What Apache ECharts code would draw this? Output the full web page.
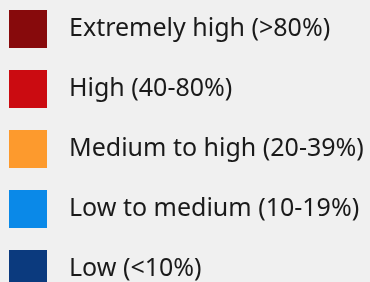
<!DOCTYPE html>
<html lang="en">
<head>
    <meta charset="UTF-8">
    <title>legend</title>
    <style>
        html, body { margin: 0; padding: 0; background: #f0f0f0; }
        #main { width: 370px; height: 282px; }
    </style>
</head>
<body>
    <div id="main"></div>
    <script src="https://cdn.jsdelivr.net/npm/echarts@6/dist/echarts.min.js"></script>
    <script>
        let categories = ['Extremely high (>80%)', 'High (40-80%)', 'Medium to high (20-39%)', 'Low to medium (10-19%)', 'Low (<10%)'];
        let colors = ['#870A0C', '#CB0B11', '#FD9A2D', '#0A89E8', '#0B3A7E'];

        var myChart = echarts.init(document.getElementById('main'));

        var series = categories.map(function (name, i) {
            return { name: name, type: 'bar', data: [], itemStyle: { color: colors[i] } };
        });

        option = {
            backgroundColor: '#f0f0f0',
            animation: false,
            xAxis: { show: false, type: 'category', data: [] },
            yAxis: { show: false },
            grid: { show: false },
            legend: {
                orient: 'vertical',
                left: 9,
                top: 10,
                height: 400,
                padding: 0,
                icon: 'rect',
                itemWidth: 38,
                itemHeight: 38,
                itemGap: 22,
                selectedMode: false,
                textStyle: {
                    fontFamily: 'Noto Sans',
                    fontSize: 25,
                    color: '#1a1a1a',
                    padding: [0, 0, 0, 17]
                },
                data: categories
            },
            series: series
        };

        myChart.setOption(option);
    </script>
</body>
</html>
